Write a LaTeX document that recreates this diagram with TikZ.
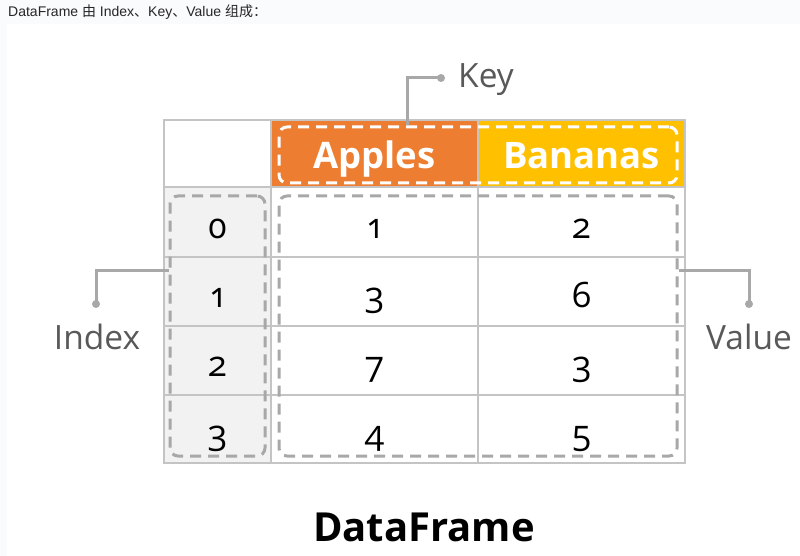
\documentclass[tikz,border=0pt]{standalone}
\usepackage{fontspec}
\setmainfont{Open Sans}
\newfontfamily\numfont[Numbers=OldStyle]{Open Sans}
\newfontfamily\capfont{Liberation Sans}
\newfontfamily\cjk{Noto Sans CJK SC}
\definecolor{pagebg}{HTML}{FAFBFC}
\definecolor{orangehd}{HTML}{ED7D31}
\definecolor{yellowhd}{HTML}{FFC000}
\definecolor{gridgray}{HTML}{C4C4C4}
\definecolor{idxfill}{HTML}{F2F2F2}
\definecolor{dashgray}{HTML}{A8A8A8}
\definecolor{labelgray}{HTML}{595959}
\tikzset{
  cell/.style={draw=gridgray, line width=2pt, inner sep=0pt, rectangle},
  digit/.style={font=\numfont\fontsize{35}{35}\selectfont, text=black, inner sep=0pt, anchor=base},
  headtxt/.style={font=\bfseries\fontsize{36.5}{36.5}\selectfont, text=white, inner sep=0pt, anchor=base},
  dashbox/.style={draw=dashgray, line width=3pt, dash pattern=on 11pt off 7pt, rounded corners=8pt, inner sep=0pt, rectangle},
  whitebox/.style={dashbox, draw=white},
  conn/.style={draw=dashgray, line width=3pt},
  dot/.style={circle, fill=dashgray, inner sep=0pt, minimum size=8pt},
  lbl/.style={font=\fontsize{33.5}{33.5}\selectfont, text=labelgray, inner sep=0pt}
}
\begin{document}
\begin{tikzpicture}[x=1pt,y=-1pt]
\useasboundingbox (0,0) rectangle (800,556);
\fill[pagebg] (0,0) rectangle (800,556);
\fill[white] (7,24) rectangle (800,556);
\node[anchor=base west, inner sep=0pt, font=\capfont\fontsize{14}{14}\selectfont, text=black!85] (title) at (8,17)
  {DataFrame {\cjk 由} Index{\cjk 、}Key{\cjk 、}Value {\cjk 组成：}};
% header row
\node[cell, fill=white, minimum width=107pt, minimum height=67pt] (h0) at (217.5,153.5) {};
\node[cell, fill=orangehd, minimum width=207pt, minimum height=67pt] (h1) at (374.5,153.5) {};
\node[cell, fill=yellowhd, minimum width=207pt, minimum height=67pt] (h2) at (581.5,153.5) {};
% rows
\foreach \r/\cy/\hh in {0/222/70, 1/291.5/69, 2/360.5/69, 3/429/68} {
  \node[cell, fill=idxfill, minimum width=107pt, minimum height=\hh pt] (i\r) at (217.5,\cy) {};
  \node[cell, fill=white, minimum width=207pt, minimum height=\hh pt] (a\r) at (374.5,\cy) {};
  \node[cell, fill=white, minimum width=207pt, minimum height=\hh pt] (b\r) at (581.5,\cy) {};
}
% header texts
\node[headtxt] (tapples) at (374.5,169) {Apples};
\node[headtxt] (tbananas) at (581.5,169) {Bananas};
% digits
\foreach \r/\cy/\i/\a/\b in {0/238/0/1/2, 1/307.5/1/3/6, 2/376.5/2/7/3, 3/445/3/4/5} {
  \node[digit] (ti\r) at (217.5,\cy) {\i};
  \node[digit] (ta\r) at (374.5,\cy) {\a};
  \node[digit] (tb\r) at (581.5,\cy) {\b};
}
% dashed groups
\node[whitebox, minimum width=398pt, minimum height=56pt] (keybox) at (478,155) {};
\node[dashbox, minimum width=95pt, minimum height=260pt] (idxbox) at (217.5,326) {};
\node[dashbox, minimum width=398pt, minimum height=260pt] (valbox) at (478,326) {};
% key connector
\coordinate (keycorner) at (407,78);
\node[dot] (keydot) at (441,78) {};
\draw[conn] (keybox.north -| keycorner) -- (keycorner) -- (keydot.center);
\node[lbl, anchor=west] (keylbl) at (458,80) {Key};
% index connector
\coordinate (idxcorner) at (96,270);
\node[dot] (idxdot) at (96,304) {};
\draw[conn] (idxbox.west |- idxcorner) -- (idxcorner) -- (idxdot.center);
\node[lbl] (idxlbl) at (97,337) {Index};
% value connector
\coordinate (valcorner) at (749,270);
\node[dot] (valdot) at (749,304) {};
\draw[conn] (valbox.east |- valcorner) -- (valcorner) -- (valdot.center);
\node[lbl] (vallbl) at (749,337) {Value};
% caption
\node[font=\bfseries\fontsize{40}{40}\selectfont, text=black, inner sep=0pt, anchor=base] (caption) at (424,541) {DataFrame};
\end{tikzpicture}
\end{document}
